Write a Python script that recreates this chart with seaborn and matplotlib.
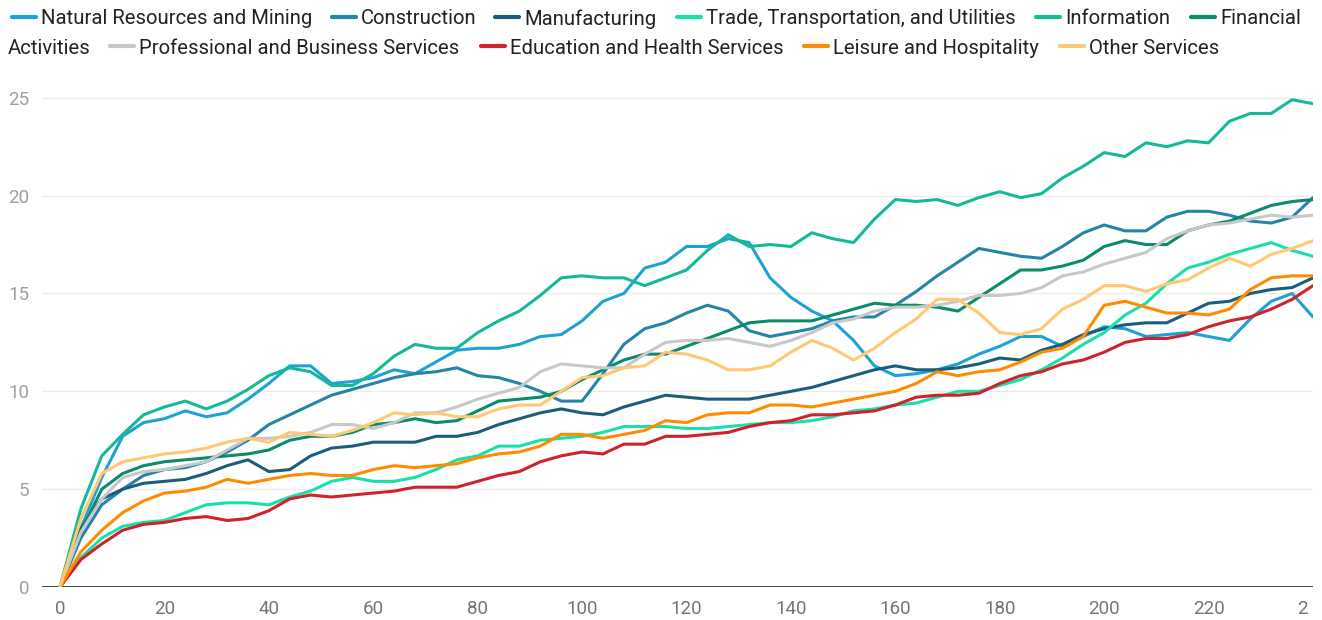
import numpy as np
import pandas as pd
import matplotlib.pyplot as plt
from matplotlib.lines import Line2D
from matplotlib.transforms import Bbox
import seaborn as sns

# months since start, sampled every 4 months
months = list(range(0, 241, 4))

natural_resources = [0, 3.0, 5.6, 7.7, 8.4, 8.6, 9.0, 8.7, 8.9, 9.6, 10.4, 11.3, 11.3,
                     10.4, 10.5, 10.7, 11.1, 10.9, 11.5, 12.1, 12.2, 12.2, 12.4, 12.8, 12.9,
                     13.6, 14.6, 15.0, 16.3, 16.6, 17.4, 17.4, 17.8, 17.6, 15.8, 14.8, 14.1,
                     13.6, 12.6, 11.3, 10.8, 10.9, 11.1, 11.4, 11.9, 12.3, 12.8, 12.8, 12.3,
                     12.8, 13.3, 13.2, 12.8, 12.9, 13.0, 12.8, 12.6, 13.7, 14.6, 15.0, 13.8]
construction = [0, 2.5, 4.2, 5.0, 5.7, 6.0, 6.1, 6.4, 6.9, 7.5, 8.3, 8.8, 9.3,
                9.8, 10.1, 10.4, 10.7, 10.9, 11.0, 11.2, 10.8, 10.7, 10.4, 10.0, 9.5,
                9.5, 10.9, 12.4, 13.2, 13.5, 14.0, 14.4, 14.1, 13.1, 12.8, 13.0, 13.2,
                13.6, 13.8, 13.8, 14.4, 15.1, 15.9, 16.6, 17.3, 17.1, 16.9, 16.8, 17.4,
                18.1, 18.5, 18.2, 18.2, 18.9, 19.2, 19.2, 19.0, 18.7, 18.6, 18.9, 19.9]
manufacturing = [0, 3.0, 4.5, 5.0, 5.3, 5.4, 5.5, 5.8, 6.2, 6.5, 5.9, 6.0, 6.7,
                 7.1, 7.2, 7.4, 7.4, 7.4, 7.7, 7.7, 7.9, 8.3, 8.6, 8.9, 9.1,
                 8.9, 8.8, 9.2, 9.5, 9.8, 9.7, 9.6, 9.6, 9.6, 9.8, 10.0, 10.2,
                 10.5, 10.8, 11.1, 11.3, 11.1, 11.1, 11.2, 11.4, 11.7, 11.6, 12.1, 12.4,
                 12.9, 13.2, 13.4, 13.5, 13.5, 14.0, 14.5, 14.6, 15.0, 15.2, 15.3, 15.8]
trade = [0, 1.5, 2.5, 3.1, 3.3, 3.4, 3.8, 4.2, 4.3, 4.3, 4.2, 4.6, 4.9,
         5.4, 5.6, 5.4, 5.4, 5.6, 6.0, 6.5, 6.7, 7.2, 7.2, 7.5, 7.6,
         7.7, 7.9, 8.2, 8.2, 8.2, 8.1, 8.1, 8.2, 8.3, 8.4, 8.4, 8.5,
         8.7, 9.0, 9.1, 9.3, 9.4, 9.7, 10.0, 10.0, 10.3, 10.6, 11.1, 11.7,
         12.4, 13.0, 13.9, 14.5, 15.5, 16.3, 16.6, 17.0, 17.3, 17.6, 17.2, 16.9]
information = [0, 4.0, 6.7, 7.8, 8.8, 9.2, 9.5, 9.1, 9.5, 10.1, 10.8, 11.2, 11.0,
               10.3, 10.3, 10.9, 11.8, 12.4, 12.2, 12.2, 13.0, 13.6, 14.1, 14.9, 15.8,
               15.9, 15.8, 15.8, 15.4, 15.8, 16.2, 17.2, 18.0, 17.4, 17.5, 17.4, 18.1,
               17.8, 17.6, 18.8, 19.8, 19.7, 19.8, 19.5, 19.9, 20.2, 19.9, 20.1, 20.9,
               21.5, 22.2, 22.0, 22.7, 22.5, 22.8, 22.7, 23.8, 24.2, 24.2, 24.9, 24.7]
financial = [0, 2.8, 5.0, 5.8, 6.2, 6.4, 6.5, 6.6, 6.7, 6.8, 7.0, 7.5, 7.7,
             7.7, 7.9, 8.3, 8.4, 8.6, 8.4, 8.5, 9.0, 9.5, 9.6, 9.7, 10.0,
             10.6, 11.1, 11.6, 11.9, 11.9, 12.3, 12.7, 13.1, 13.5, 13.6, 13.6, 13.6,
             13.9, 14.2, 14.5, 14.4, 14.4, 14.3, 14.1, 14.8, 15.5, 16.2, 16.2, 16.4,
             16.7, 17.4, 17.7, 17.5, 17.5, 18.2, 18.5, 18.7, 19.1, 19.5, 19.7, 19.8]
professional = [0, 2.8, 4.5, 5.6, 5.9, 6.0, 6.2, 6.4, 7.0, 7.6, 7.6, 7.7, 7.9,
                8.3, 8.3, 8.1, 8.4, 8.9, 8.9, 9.2, 9.6, 9.9, 10.2, 11.0, 11.4,
                11.3, 11.2, 11.2, 11.9, 12.5, 12.6, 12.6, 12.7, 12.5, 12.3, 12.6, 13.0,
                13.5, 13.7, 14.1, 14.3, 14.3, 14.4, 14.6, 14.9, 14.9, 15.0, 15.3, 15.9,
                16.1, 16.5, 16.8, 17.1, 17.8, 18.2, 18.5, 18.6, 18.8, 19.0, 18.9, 19.0]
education = [0, 1.4, 2.2, 2.9, 3.2, 3.3, 3.5, 3.6, 3.4, 3.5, 3.9, 4.5, 4.7,
             4.6, 4.7, 4.8, 4.9, 5.1, 5.1, 5.1, 5.4, 5.7, 5.9, 6.4, 6.7,
             6.9, 6.8, 7.3, 7.3, 7.7, 7.7, 7.8, 7.9, 8.2, 8.4, 8.5, 8.8,
             8.8, 8.9, 9.0, 9.3, 9.7, 9.8, 9.8, 9.9, 10.4, 10.8, 11.0, 11.4,
             11.6, 12.0, 12.5, 12.7, 12.7, 12.9, 13.3, 13.6, 13.8, 14.2, 14.7, 15.4]
leisure = [0, 1.8, 2.9, 3.8, 4.4, 4.8, 4.9, 5.1, 5.5, 5.3, 5.5, 5.7, 5.8,
           5.7, 5.7, 6.0, 6.2, 6.1, 6.2, 6.3, 6.6, 6.8, 6.9, 7.2, 7.8,
           7.8, 7.6, 7.8, 8.0, 8.5, 8.4, 8.8, 8.9, 8.9, 9.3, 9.3, 9.2,
           9.4, 9.6, 9.8, 10.0, 10.4, 11.0, 10.8, 11.0, 11.1, 11.5, 12.0, 12.2,
           12.8, 14.4, 14.6, 14.3, 14.0, 14.0, 13.9, 14.2, 15.2, 15.8, 15.9, 15.9]
other_services = [0, 3.5, 5.8, 6.4, 6.6, 6.8, 6.9, 7.1, 7.4, 7.6, 7.4, 7.9, 7.8,
                  7.7, 8.0, 8.4, 8.9, 8.8, 8.9, 8.7, 8.7, 9.1, 9.3, 9.3, 10.0,
                  10.7, 10.8, 11.2, 11.3, 12.0, 11.9, 11.6, 11.1, 11.1, 11.3, 12.0, 12.6,
                  12.2, 11.6, 12.2, 13.0, 13.7, 14.7, 14.7, 14.0, 13.0, 12.9, 13.2, 14.2,
                  14.7, 15.4, 15.4, 15.1, 15.5, 15.7, 16.3, 16.8, 16.4, 17.0, 17.3, 17.7]

sectors = ['Natural Resources and Mining', 'Construction', 'Manufacturing',
           'Trade, Transportation, and Utilities', 'Information', 'Financial Activities',
           'Professional and Business Services', 'Education and Health Services',
           'Leisure and Hospitality', 'Other Services']
series = [natural_resources, construction, manufacturing, trade, information, financial,
          professional, education, leisure, other_services]
colors = ['#1fa2d3', '#2485a9', '#1b5e7b', '#19dfa9', '#13b998', '#0b8a6c',
          '#c8c8c8', '#d0222b', '#ff8c00', '#ffc872']

df = pd.concat([pd.DataFrame({'month': months, 'value': vals, 'sector': name})
                for name, vals in zip(sectors, series)], ignore_index=True)

sns.set_style('white')
plt.rcParams['font.family'] = ['Roboto', 'DejaVu Sans']

W, H = 1322, 620
fig = plt.figure(figsize=(W / 100, H / 100), dpi=100)
ax = fig.add_axes([42 / W, (H - 587) / H, (1313 - 42) / W, (587 - 88) / H])

sns.lineplot(data=df, x='month', y='value', hue='sector', hue_order=sectors,
             palette=dict(zip(sectors, colors)), linewidth=2.2, legend=False, ax=ax)

ax.set_xlim(-3.45, 240)
ax.set_ylim(0, 25.5)
ax.set_xticks(range(0, 241, 20))
ax.set_yticks(range(0, 26, 5))
ax.set_xlabel('')
ax.set_ylabel('')
for s in ax.spines.values():
    s.set_visible(False)
ax.yaxis.grid(True, color='#ececec', linewidth=1)
ax.set_axisbelow(True)
ax.axhline(0, color='#333333', linewidth=2, zorder=1)
ax.tick_params(axis='y', length=0, pad=9, labelsize=13.5, labelcolor='#a0a0a0')
ax.tick_params(axis='x', length=0, pad=9, labelsize=13.5, labelcolor='#757575')

# clip the last x label at the plot edge like the original
clip = Bbox.from_extents(0, 0, 1308, H)
for lab in ax.get_xticklabels():
    lab.set_clip_box(clip)
    lab.set_clip_on(True)

# legend laid out as wrapped text rows
LEG_FS = 14.6

def legend_item(x0, y, color, text):
    fig.add_artist(Line2D([x0 / W, (x0 + 24) / W], [1 - y / H, 1 - y / H], color=color,
                          linewidth=3, solid_capstyle='round', transform=fig.transFigure))
    fig.text((x0 + 29) / W, 1 - y / H, text, ha='left', va='center_baseline',
             fontsize=LEG_FS, color='#222222')

row1, row2 = 17, 46
legend_item(12, row1, colors[0], sectors[0])
legend_item(332, row1, colors[1], sectors[1])
legend_item(495, row1, colors[2], sectors[2])
legend_item(677, row1, colors[3], sectors[3])
legend_item(1036, row1, colors[4], sectors[4])
legend_item(1191, row1, colors[5], 'Financial')
fig.text(8 / W, 1 - row2 / H, 'Activities', ha='left', va='center_baseline',
         fontsize=LEG_FS, color='#222222')
legend_item(110, row2, colors[6], sectors[6])
legend_item(481, row2, colors[7], sectors[7])
legend_item(804, row2, colors[8], sectors[8])
legend_item(1060, row2, colors[9], sectors[9])

fig.savefig('out.png', dpi=100)
